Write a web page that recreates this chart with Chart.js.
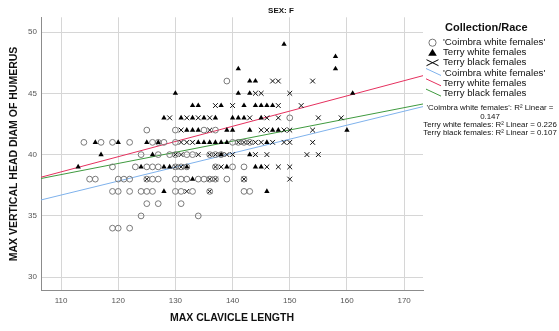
<!DOCTYPE html>
<html><head><meta charset="utf-8">
<script src="https://cdn.jsdelivr.net/npm/chart.js@4/dist/chart.umd.min.js"></script>
<style>html,body{margin:0;padding:0;background:#fff}</style>
</head><body>
<canvas id="c" width="559" height="331"></canvas>
<script>
// ---- data ----
const chartTitle = 'SEX: F';
const xTitle = 'MAX CLAVICLE LENGTH';
const yTitle = 'MAX VERTICAL HEAD DIAM OF HUMERUS';
const legendTitle = 'Collection/Race';
const seriesLabels = ["'Coimbra white females'", 'Terry white females', 'Terry black females'];
const r2Values = ['0.147', '0.226', '0.107'];
const xTicks = [110, 120, 130, 140, 150, 160, 170];
const yTicks = [30, 35, 40, 45, 50];
const xRange = [106.5, 173.3];
const yRange = [28.9, 51.2];

// Coimbra white females (open circles)
const coimbraX = [139,150,125,130,135,137,
  114,117,119,122,126,127,128,130,140,141,142,143,
  124,127,129,130,132,133,136,137,138,
  119,123,125,126,127,130,131,132,137,140,142,
  115,116,120,121,122,125,126,127,130,131,132,134,135,136,137,139,142,
  119,120,122,124,125,126,130,131,133,136,142,143,
  125,127,131, 124,134, 119,120,122];
const coimbraY = [46,43,42,42,42,42,
  41,41,41,41,41,41,41,41,41,41,41,41,
  40,40,40,40,40,40,40,40,40,
  39,39,39,39,39,39,39,39,39,39,39,
  38,38,38,38,38,38,38,38,38,38,38,38,38,38,38,38,38,
  37,37,37,37,37,37,37,37,37,37,37,37,
  36,36,36, 35,35, 34,34,34];

// Terry white females (filled triangles)
const terryWhiteX = [149,158,141,158,143,144,130,141,143,161,
  133,134,138,142,144,145,146,147,
  128,131,133,135,137,140,141,142,145,
  132,133,134,139,140,143,147,148,160,
  116,120,125,127,134,135,136,137,138,139,146,
  117,126,138,143,
  113,124,128,129,132,139,144,145,
  133, 128,146];
const terryWhiteY = [49,48,47,47,46,46,45,45,45,45,
  44,44,44,44,44,44,44,44,
  43,43,43,43,43,43,43,43,43,
  42,42,42,42,42,42,42,42,42,
  41,41,41,41,41,41,41,41,41,41,41,
  40,40,40,40,
  39,39,39,39,39,39,39,39,
  38, 37,37];

// Terry black females (crosses)
const terryBlackX = [147,148,154,144,145,150,
  137,140,148,152,
  129,132,134,136,143,146,148,155,159,
  131,136,145,146,149,150,154,
  131,132,133,141,142,143,144,145,147,149,150,154,
  130,131,134,136,137,138,139,140,144,146,153,155,
  130,131,137,138,146,148,150,
  125,136,137,142,150,
  132,136];
const terryBlackY = [46,46,46,45,45,45,
  44,44,44,44,
  43,43,43,43,43,43,43,43,43,
  42,42,42,42,42,42,42,
  41,41,41,41,41,41,41,41,41,41,41,41,
  40,40,40,40,40,40,40,40,40,40,40,40,
  39,39,39,39,39,39,39,
  38,38,38,38,38,
  37,37];

// linear fit lines (intercept, slope)
const fitIntercepts = [24.16, 24.95, 28.36];
const fitSlopes = [0.114, 0.124, 0.091];

// ---- styles ----
const lineColors = ['#7fb2ec', '#e5305e', '#3f9a3f'];
const FONT = '"Liberation Sans", Arial, sans-serif';

function pts(xs, ys) { return xs.map((x, i) => ({x: x, y: ys[i]})); }
function fitPts(i) { return xRange.map(x => ({x: x, y: fitIntercepts[i] + fitSlopes[i] * x})); }

const legendPlugin = {
  id: 'spssLegend',
  afterDraw(chart) {
    const ctx = chart.ctx;
    ctx.save();
    ctx.fillStyle = '#111';
    ctx.textBaseline = 'middle';
    ctx.textAlign = 'center';
    ctx.font = 'bold 8px ' + FONT;
    ctx.fillText(chartTitle, 281, 10.5);
    ctx.textAlign = 'left';
    ctx.font = 'bold 11px ' + FONT;
    ctx.fillText(legendTitle, 445, 27.5);
    const sx = 432.5, tx = 443, rowY = [42.7, 52.7, 62.7, 73, 83.3, 93.6];
    ctx.font = '9.7px ' + FONT;
    ctx.strokeStyle = '#777'; ctx.lineWidth = 1;
    ctx.beginPath(); ctx.arc(sx, rowY[0], 3.6, 0, Math.PI * 2); ctx.stroke();
    ctx.fillStyle = '#000';
    ctx.beginPath(); ctx.moveTo(sx, rowY[1] - 4); ctx.lineTo(sx + 4.3, rowY[1] + 3); ctx.lineTo(sx - 4.3, rowY[1] + 3); ctx.closePath(); ctx.fill();
    ctx.strokeStyle = '#000';
    ctx.beginPath();
    ctx.moveTo(sx - 6, rowY[2] - 3); ctx.lineTo(sx + 6, rowY[2] + 3);
    ctx.moveTo(sx - 6, rowY[2] + 3); ctx.lineTo(sx + 6, rowY[2] - 3);
    ctx.stroke();
    for (let i = 0; i < 3; i++) {
      ctx.strokeStyle = lineColors[i];
      ctx.beginPath(); ctx.moveTo(426, rowY[3 + i] - 4.5); ctx.lineTo(441, rowY[3 + i] + 2.5); ctx.stroke();
    }
    ctx.fillStyle = '#111';
    for (let i = 0; i < 3; i++) {
      ctx.fillText(seriesLabels[i], tx, rowY[i]);
      ctx.fillText(seriesLabels[i], tx, rowY[3 + i]);
    }
    ctx.font = '7.9px ' + FONT;
    ctx.textAlign = 'center';
    const cx = 490;
    ctx.fillText(seriesLabels[0] + ': R\u00b2 Linear =', cx, 108.3);
    ctx.fillText(r2Values[0], cx, 116.5);
    ctx.fillText(seriesLabels[1] + ': R\u00b2 Linear = ' + r2Values[1], cx, 124.7);
    ctx.fillText(seriesLabels[2] + ': R\u00b2 Linear = ' + r2Values[2], cx, 132.8);
    ctx.restore();
  }
};

new Chart(document.getElementById('c'), {
  type: 'scatter',
  data: {
    datasets: [
      {label: seriesLabels[0], data: pts(coimbraX, coimbraY), pointStyle: 'circle', radius: 2.9,
       borderColor: '#7a7a7a', backgroundColor: 'rgba(255,255,255,0)', borderWidth: 1},
      {label: seriesLabels[1], data: pts(terryWhiteX, terryWhiteY), pointStyle: 'triangle', radius: 3.1,
       borderColor: '#000', backgroundColor: '#000', borderWidth: 0},
      {label: seriesLabels[2], data: pts(terryBlackX, terryBlackY), pointStyle: 'crossRot', radius: 3.4,
       borderColor: '#111', backgroundColor: '#111', borderWidth: 1},
      {label: 'fit0', data: fitPts(0), showLine: true, pointRadius: 0, borderColor: lineColors[0], borderWidth: 1},
      {label: 'fit1', data: fitPts(1), showLine: true, pointRadius: 0, borderColor: lineColors[1], borderWidth: 1},
      {label: 'fit2', data: fitPts(2), showLine: true, pointRadius: 0, borderColor: lineColors[2], borderWidth: 1}
    ]
  },
  options: {
    responsive: false,
    animation: false,
    devicePixelRatio: 1,
    layout: {padding: {left: 0, right: 136, top: 17.3, bottom: 0}},
    plugins: {
      legend: {display: false},
      tooltip: {enabled: false},
      title: {display: false}
    },
    scales: {
      x: {
        type: 'linear', min: xRange[0], max: xRange[1],
        afterBuildTicks: s => { s.ticks = xTicks.map(v => ({value: v})); },
        afterFit: s => { s.height = 40.3; },
        ticks: {color: '#555', font: {family: FONT, size: 8}, padding: 5, maxRotation: 0},
        grid: {color: '#d6d6d6', drawTicks: false},
        border: {color: '#8c8c8c'},
        title: {display: true, text: xTitle, color: '#111', font: {family: FONT, size: 10.5, weight: 'bold'},
                padding: {top: 0, bottom: 7}}
      },
      y: {
        type: 'linear', min: yRange[0], max: yRange[1],
        afterBuildTicks: s => { s.ticks = yTicks.map(v => ({value: v})); },
        afterFit: s => { s.width = 41; },
        ticks: {color: '#555', font: {family: FONT, size: 8}, padding: 4},
        grid: {color: '#d6d6d6', drawTicks: false},
        border: {color: '#8c8c8c'},
        title: {display: true, text: yTitle, color: '#111', font: {family: FONT, size: 10.5, weight: 'bold'},
                padding: {top: 7.7, bottom: 0}}
      }
    }
  },
  plugins: [legendPlugin]
});
</script>
</body></html>
